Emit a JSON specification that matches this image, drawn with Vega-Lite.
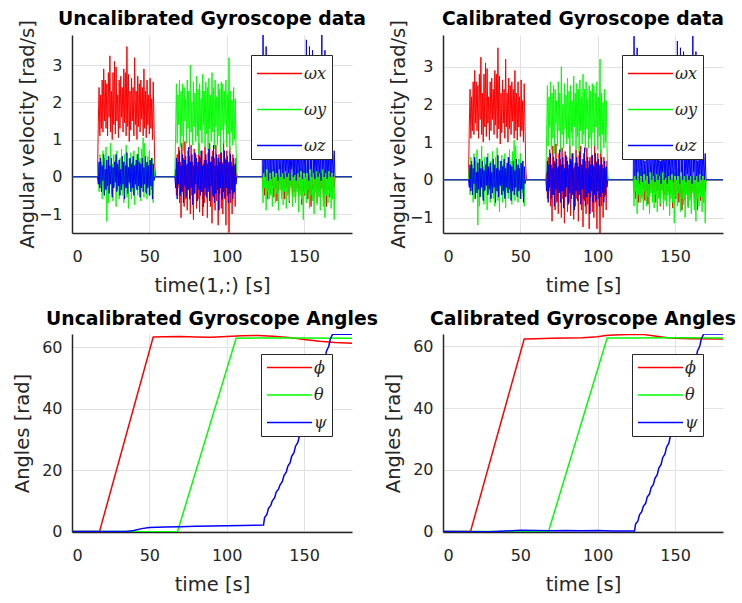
{
"$schema": "https://vega.github.io/schema/vega-lite/v6.json",
"padding": {"left": 12, "top": 9, "right": 5, "bottom": 5},
"background": "white",
"config": {
  "font": "DejaVu Sans",
  "view": {"stroke": null},
  "axis": {"labelFont": "DejaVu Sans", "labelFontSize": 16, "labelColor": "#262626", "titleFont": "DejaVu Sans", "titleFontSize": 19.5, "titleFontWeight": "normal", "titleColor": "#262626", "domainColor": "#262626", "domainWidth": 1.5, "ticks": false, "gridColor": "#e2e2e2", "gridWidth": 1},
  "axisX": {"labelPadding": 15, "titlePadding": 12},
  "axisY": {"labelPadding": 10, "titlePadding": 8},
  "title": {"font": "DejaVu Sans", "fontSize": 18.8, "fontWeight": "bold", "color": "#000000"},
  "legend": {"orient": "top-right", "offset": 20, "symbolType": "M-1,0H5", "symbolSize": 225, "symbolStrokeWidth": 1.5, "symbolFillColor": "transparent", "labelFont": "DejaVu Serif", "labelFontStyle": "italic", "labelFontSize": 16, "labelColor": "#262626", "strokeColor": "#262626", "fillColor": "#ffffff", "padding": 5, "labelOffset": 31}
},
"datasets": {
"gyro": [
{"t":0,"x":0,"y":0,"z":0},{"t":16.5,"x":0,"y":0,"z":0},
{"t":17,"x":1.45,"y":0.3,"z":-0.2},{"t":17.5,"x":2.4,"y":-0.4,"z":0.4},{"t":18,"x":1.1,"y":0.6,"z":-0.3},{"t":18.5,"x":2.2,"y":-0.2,"z":0.5},{"t":19,"x":1.3,"y":0.4,"z":-0.4},{"t":19.5,"x":2.6,"y":-0.6,"z":0.3},{"t":20,"x":1.2,"y":0.7,"z":-0.1},{"t":20.5,"x":2.9,"y":-0.5,"z":0.6},{"t":21,"x":1.5,"y":0.5,"z":-0.5},{"t":21.5,"x":2.6,"y":-0.3,"z":0.2},{"t":22,"x":1.3,"y":0.8,"z":-0.35},{"t":22.5,"x":2.5,"y":-1.2,"z":0.45},{"t":23,"x":1.1,"y":0.2,"z":-0.25},{"t":23.5,"x":2.8,"y":-0.7,"z":0.55},{"t":24,"x":1.6,"y":0.55,"z":-0.45},{"t":24.5,"x":3.25,"y":-0.1,"z":0.3},{"t":25,"x":1.2,"y":0.9,"z":-0.2},{"t":25.5,"x":2.3,"y":-0.45,"z":0.5},{"t":26,"x":1.0,"y":0.35,"z":-0.55},{"t":26.5,"x":2.8,"y":-0.65,"z":0.25},{"t":27,"x":1.4,"y":0.6,"z":-0.3},{"t":27.5,"x":3.1,"y":-0.25,"z":0.4},{"t":28,"x":1.15,"y":0.45,"z":-0.15},{"t":28.5,"x":2.95,"y":-0.8,"z":0.6},{"t":29,"x":1.5,"y":0.7,"z":-0.4},{"t":29.5,"x":2.2,"y":-0.35,"z":0.35},{"t":30,"x":1.05,"y":0.3,"z":-0.25},{"t":30.5,"x":2.6,"y":-0.6,"z":0.45},{"t":31,"x":1.3,"y":0.5,"z":-0.5},{"t":31.5,"x":2.7,"y":-0.15,"z":0.2},{"t":32,"x":1.6,"y":0.75,"z":-0.35},{"t":32.5,"x":2.4,"y":-0.5,"z":0.55},{"t":33,"x":1.2,"y":0.4,"z":-0.2},{"t":33.5,"x":2.9,"y":-0.7,"z":0.4},{"t":34,"x":1.45,"y":0.6,"z":-0.6},{"t":34.5,"x":2.8,"y":-0.3,"z":0.3},{"t":35,"x":1.1,"y":0.85,"z":-0.3},{"t":35.5,"x":3.5,"y":-0.55,"z":0.65},{"t":36,"x":1.35,"y":0.3,"z":-0.45},{"t":36.5,"x":2.75,"y":-0.85,"z":0.25},{"t":37,"x":0.95,"y":0.5,"z":-0.15},{"t":37.5,"x":2.3,"y":-0.2,"z":0.5},{"t":38,"x":1.25,"y":0.65,"z":-0.4},{"t":38.5,"x":2.65,"y":-0.6,"z":0.35},{"t":39,"x":1.5,"y":0.4,"z":-0.3},{"t":39.5,"x":2.4,"y":-0.4,"z":0.55},{"t":40,"x":1.1,"y":0.7,"z":-0.5},{"t":40.5,"x":3.2,"y":-0.75,"z":0.3},{"t":41,"x":1.4,"y":0.35,"z":-0.2},{"t":41.5,"x":2.3,"y":-0.3,"z":0.45},{"t":42,"x":1.0,"y":0.6,"z":-0.35},{"t":42.5,"x":2.7,"y":-0.5,"z":0.6},{"t":43,"x":1.35,"y":0.8,"z":-0.25},{"t":43.5,"x":2.5,"y":-0.35,"z":0.4},{"t":44,"x":1.2,"y":0.5,"z":-0.55},{"t":44.5,"x":2.6,"y":-0.65,"z":0.35},{"t":45,"x":1.55,"y":0.75,"z":-0.3},{"t":45.5,"x":2.4,"y":-0.2,"z":0.5},{"t":46,"x":1.1,"y":1.05,"z":-0.4},{"t":46.5,"x":2.9,"y":-0.55,"z":0.25},{"t":47,"x":1.3,"y":0.9,"z":-0.2},{"t":47.5,"x":2.3,"y":-0.4,"z":0.55},{"t":48,"x":1.05,"y":0.3,"z":-0.45},{"t":48.5,"x":2.6,"y":-0.6,"z":0.4},{"t":49,"x":1.4,"y":0.55,"z":-0.3},{"t":49.5,"x":2.2,"y":-0.25,"z":0.3},{"t":50,"x":1.15,"y":0.7,"z":-0.5},{"t":50.5,"x":2.65,"y":-0.5,"z":0.45},{"t":51,"x":1.3,"y":0.4,"z":-0.25},{"t":51.5,"x":2.1,"y":-0.35,"z":0.5},{"t":52,"x":1.0,"y":0.5,"z":-0.6},{"t":52.5,"x":2.55,"y":-0.7,"z":0.35},{"t":53,"x":1.45,"y":0.2,"z":-0.1},{"t":53.5,"x":0.3,"y":0,"z":0},
{"t":54,"x":0,"y":0,"z":0},{"t":66.5,"x":0,"y":0,"z":0},
{"t":67,"x":0.2,"y":1.2,"z":-0.3},{"t":67.5,"x":-0.5,"y":2.5,"z":0.5},{"t":68,"x":0.6,"y":0.9,"z":-0.6},{"t":68.5,"x":-0.3,"y":2.2,"z":0.4},{"t":69,"x":0.8,"y":1.4,"z":-0.2},{"t":69.5,"x":-0.7,"y":2.6,"z":0.7},{"t":70,"x":0.4,"y":0.8,"z":-0.5},{"t":70.5,"x":-1.1,"y":2.3,"z":0.3},{"t":71,"x":0.9,"y":1.1,"z":-0.4},{"t":71.5,"x":-0.4,"y":2.5,"z":0.6},{"t":72,"x":0.5,"y":0.7,"z":-0.7},{"t":72.5,"x":-0.8,"y":2.4,"z":0.45},{"t":73,"x":0.95,"y":1.5,"z":-0.25},{"t":73.5,"x":-0.6,"y":2.1,"z":0.55},{"t":74,"x":0.3,"y":0.9,"z":-0.55},{"t":74.5,"x":-0.9,"y":2.6,"z":0.35},{"t":75,"x":0.7,"y":1.3,"z":-0.35},{"t":75.5,"x":-0.35,"y":2.3,"z":0.8},{"t":76,"x":0.55,"y":0.75,"z":-0.6},{"t":76.5,"x":-1.0,"y":3.0,"z":0.4},{"t":77,"x":0.85,"y":1.2,"z":-0.3},{"t":77.5,"x":-0.5,"y":2.0,"z":0.6},{"t":78,"x":0.4,"y":0.85,"z":-0.75},{"t":78.5,"x":-1.15,"y":2.55,"z":0.3},{"t":79,"x":0.75,"y":1.35,"z":-0.45},{"t":79.5,"x":-0.45,"y":2.25,"z":0.65},{"t":80,"x":0.6,"y":0.95,"z":-0.2},{"t":80.5,"x":-0.85,"y":2.7,"z":0.5},{"t":81,"x":0.3,"y":1.1,"z":-0.65},{"t":81.5,"x":-0.6,"y":2.35,"z":0.4},{"t":82,"x":0.9,"y":0.6,"z":-0.35},{"t":82.5,"x":-0.95,"y":2.5,"z":0.55},{"t":83,"x":0.5,"y":1.25,"z":-0.5},{"t":83.5,"x":-0.4,"y":2.1,"z":0.7},{"t":84,"x":0.7,"y":0.9,"z":-0.4},{"t":84.5,"x":-1.05,"y":2.75,"z":0.3},{"t":85,"x":0.35,"y":1.4,"z":-0.8},{"t":85.5,"x":-0.7,"y":2.3,"z":0.45},{"t":86,"x":0.8,"y":0.8,"z":-0.3},{"t":86.5,"x":-0.5,"y":2.55,"z":0.6},{"t":87,"x":0.45,"y":1.15,"z":-0.55},{"t":87.5,"x":-1.1,"y":2.4,"z":0.35},{"t":88,"x":0.65,"y":0.7,"z":-0.4},{"t":88.5,"x":-0.3,"y":2.65,"z":0.75},{"t":89,"x":0.9,"y":1.3,"z":-0.65},{"t":89.5,"x":-0.8,"y":2.2,"z":0.4},{"t":90,"x":0.4,"y":0.95,"z":-0.25},{"t":90.5,"x":-1.25,"y":2.8,"z":0.55},{"t":91,"x":0.7,"y":1.2,"z":-0.5},{"t":91.5,"x":-0.55,"y":2.4,"z":0.85},{"t":92,"x":0.5,"y":0.75,"z":-0.7},{"t":92.5,"x":-0.9,"y":2.6,"z":0.3},{"t":93,"x":0.85,"y":1.35,"z":-0.45},{"t":93.5,"x":-0.65,"y":2.15,"z":0.6},{"t":94,"x":0.3,"y":0.85,"z":-0.35},{"t":94.5,"x":-1.3,"y":2.5,"z":0.5},{"t":95,"x":0.6,"y":1.1,"z":-0.9},{"t":95.5,"x":-0.45,"y":2.35,"z":0.4},{"t":96,"x":0.75,"y":0.65,"z":-0.3},{"t":96.5,"x":-0.85,"y":2.55,"z":0.65},{"t":97,"x":0.4,"y":1.25,"z":-0.6},{"t":97.5,"x":-1.0,"y":2.5,"z":0.35},{"t":98,"x":0.95,"y":0.9,"z":-0.4},{"t":98.5,"x":-0.6,"y":2.3,"z":0.7},{"t":99,"x":0.5,"y":1.4,"z":-0.55},{"t":99.5,"x":-1.3,"y":2.6,"z":0.45},{"t":100,"x":0.7,"y":0.8,"z":-0.3},{"t":100.5,"x":-0.5,"y":2.2,"z":0.55},{"t":101,"x":0.35,"y":1.15,"z":-0.7},{"t":101.5,"x":-1.5,"y":3.2,"z":0.4},{"t":102,"x":0.8,"y":0.7,"z":-0.45},{"t":102.5,"x":-0.7,"y":2.3,"z":0.6},{"t":103,"x":0.4,"y":1.2,"z":-0.35},{"t":103.5,"x":-1.0,"y":2.05,"z":0.3},{"t":104,"x":0.6,"y":0.85,"z":-0.6},{"t":104.5,"x":-0.45,"y":2.4,"z":0.5},{"t":105,"x":0.3,"y":1.0,"z":-0.4},{"t":105.5,"x":-0.8,"y":2.1,"z":0.35},{"t":106,"x":0.5,"y":0.9,"z":-0.2},{"t":106.5,"x":0,"y":0.1,"z":0},
{"t":107,"x":0,"y":0,"z":0},{"t":122.5,"x":0,"y":0,"z":0},
{"t":123,"x":0,"y":0,"z":0},{"t":123.5,"x":-0.3,"y":-0.7,"z":3.81},{"t":124,"x":0.1,"y":0.3,"z":0.1},{"t":124.5,"x":-0.5,"y":-0.3,"z":0.8},{"t":125,"x":0,"y":0.1,"z":0},{"t":125.5,"x":-0.2,"y":-0.9,"z":3.5},{"t":126,"x":0.1,"y":0.2,"z":0.2},{"t":126.5,"x":-0.6,"y":-0.4,"z":0.7},{"t":127,"x":0,"y":0,"z":-0.1},{"t":127.5,"x":-0.35,"y":-0.6,"z":0.9},{"t":128,"x":0.05,"y":0.3,"z":0.1},{"t":128.5,"x":-0.45,"y":-0.5,"z":0.6},{"t":129,"x":0.1,"y":0.1,"z":-0.05},{"t":129.5,"x":-0.25,"y":-0.8,"z":0.85},{"t":130,"x":0,"y":0.2,"z":0.15},{"t":130.5,"x":-0.55,"y":-0.3,"z":0.5},{"t":131,"x":0.1,"y":0,"z":0},{"t":131.5,"x":-0.3,"y":-0.7,"z":0.9},{"t":132,"x":0,"y":0.25,"z":0.1},{"t":132.5,"x":-0.65,"y":-0.45,"z":0.65},{"t":133,"x":0.05,"y":0.05,"z":-0.1},{"t":133.5,"x":-0.4,"y":-0.9,"z":0.8},{"t":134,"x":0.1,"y":0.2,"z":0.2},{"t":134.5,"x":-0.2,"y":-0.35,"z":0.55},{"t":135,"x":0,"y":0,"z":0},{"t":135.5,"x":-0.5,"y":-0.6,"z":0.95},{"t":136,"x":0.1,"y":0.3,"z":0.1},{"t":136.5,"x":-0.35,"y":-0.75,"z":0.7},{"t":137,"x":0,"y":0.1,"z":-0.05},{"t":137.5,"x":-0.6,"y":-0.4,"z":0.85},{"t":138,"x":0.05,"y":0.2,"z":0.15},{"t":138.5,"x":-0.3,"y":-0.85,"z":0.6},{"t":139,"x":0.1,"y":0,"z":0},{"t":139.5,"x":-0.45,"y":-0.5,"z":0.9},{"t":140,"x":0,"y":0.25,"z":0.1},{"t":140.5,"x":-0.7,"y":-0.65,"z":0.5},{"t":141,"x":0.1,"y":0.1,"z":-0.1},{"t":141.5,"x":-0.25,"y":-0.3,"z":0.8},{"t":142,"x":0,"y":0.2,"z":0.2},{"t":142.5,"x":-0.5,"y":-0.8,"z":0.65},{"t":143,"x":0.05,"y":0,"z":0},{"t":143.5,"x":-0.4,"y":-0.55,"z":0.9},{"t":144,"x":0.1,"y":0.3,"z":0.05},{"t":144.5,"x":-0.65,"y":-0.7,"z":0.7},{"t":145,"x":0,"y":0.1,"z":-0.1},{"t":145.5,"x":-0.3,"y":-0.4,"z":0.85},{"t":146,"x":0.1,"y":0.2,"z":0.1},{"t":146.5,"x":-0.55,"y":-0.95,"z":0.55},{"t":147,"x":0,"y":0,"z":0},{"t":147.5,"x":-0.35,"y":-0.5,"z":0.95},{"t":148,"x":0.05,"y":0.25,"z":0.15},{"t":148.5,"x":-0.75,"y":-0.6,"z":0.6},{"t":149,"x":0.1,"y":0.1,"z":-0.05},{"t":149.5,"x":-0.4,"y":-1.15,"z":0.8},{"t":150,"x":0,"y":0.2,"z":0.1},{"t":150.5,"x":-0.5,"y":-0.45,"z":0.7},{"t":151,"x":0.1,"y":0,"z":0},{"t":151.5,"x":-0.3,"y":-0.7,"z":3.68},{"t":152,"x":0,"y":0.3,"z":0.1},{"t":152.5,"x":-0.6,"y":-0.35,"z":0.9},{"t":153,"x":0.05,"y":0.1,"z":-0.1},{"t":153.5,"x":-0.45,"y":-0.85,"z":3.5},{"t":154,"x":0.1,"y":0.2,"z":0.2},{"t":154.5,"x":-0.8,"y":-0.5,"z":0.75},{"t":155,"x":0,"y":0,"z":0},{"t":155.5,"x":-0.35,"y":-0.65,"z":3.4},{"t":156,"x":0.1,"y":0.25,"z":0.1},{"t":156.5,"x":-0.55,"y":-1.0,"z":0.85},{"t":157,"x":0,"y":0.1,"z":-0.05},{"t":157.5,"x":-0.25,"y":-0.4,"z":0.6},{"t":158,"x":0.05,"y":0.2,"z":0.15},{"t":158.5,"x":-0.7,"y":-0.75,"z":0.9},{"t":159,"x":0.1,"y":0,"z":0},{"t":159.5,"x":-0.4,"y":-0.55,"z":0.7},{"t":160,"x":0,"y":0.3,"z":0.1},{"t":160.5,"x":-0.5,"y":-0.9,"z":0.7},{"t":161,"x":0.1,"y":0.1,"z":-0.1},{"t":161.5,"x":-0.3,"y":-0.35,"z":3.81},{"t":162,"x":0,"y":0.2,"z":0.2},{"t":162.5,"x":-0.65,"y":-0.8,"z":0.6},{"t":163,"x":0.05,"y":0,"z":0},{"t":163.5,"x":-0.45,"y":-1.1,"z":3.4},{"t":164,"x":0.1,"y":0.25,"z":0.1},{"t":164.5,"x":-0.8,"y":-0.5,"z":0.5},{"t":165,"x":0,"y":0.1,"z":-0.05},{"t":165.5,"x":-0.35,"y":-0.7,"z":0.8},{"t":166,"x":0.1,"y":0.2,"z":0.15},{"t":166.5,"x":-0.55,"y":-0.45,"z":0.65},{"t":167,"x":0,"y":0,"z":0},{"t":167.5,"x":-0.4,"y":-0.85,"z":0.9},{"t":168,"x":0.05,"y":0.15,"z":0.1},{"t":168.5,"x":-0.6,"y":-0.6,"z":0.6},{"t":169,"x":0.1,"y":0.05,"z":0},{"t":169.5,"x":-0.3,"y":-1.15,"z":0.7},{"t":170,"x":0,"y":0,"z":0},
{"t":170.5,"x":0,"y":0,"z":0},{"t":181,"x":0,"y":0,"z":0}
],
"angU": [
{"t":0,"s":"phi","v":0},{"t":17.8,"s":"phi","v":0},{"t":52.5,"s":"phi","v":63.4},{"t":60,"s":"phi","v":63.5},{"t":70,"s":"phi","v":63.6},{"t":80,"s":"phi","v":63.4},{"t":90,"s":"phi","v":63.3},{"t":100,"s":"phi","v":63.6},{"t":110,"s":"phi","v":63.85},{"t":120,"s":"phi","v":63.9},{"t":130,"s":"phi","v":63.7},{"t":140,"s":"phi","v":63.3},{"t":150,"s":"phi","v":62.6},{"t":160,"s":"phi","v":62.0},{"t":170,"s":"phi","v":61.6},{"t":181,"s":"phi","v":61.4},
{"t":0,"s":"theta","v":0},{"t":35,"s":"theta","v":0},{"t":40,"s":"theta","v":-0.15},{"t":68.2,"s":"theta","v":-0.1},{"t":106.1,"s":"theta","v":63.0},{"t":120,"s":"theta","v":63.1},{"t":150,"s":"theta","v":63.1},{"t":181,"s":"theta","v":63.05},
{"t":0,"s":"psi","v":0},{"t":35,"s":"psi","v":0},{"t":40,"s":"psi","v":0.3},{"t":45,"s":"psi","v":0.9},{"t":50,"s":"psi","v":1.3},{"t":60,"s":"psi","v":1.45},{"t":70,"s":"psi","v":1.55},{"t":80,"s":"psi","v":1.65},{"t":90,"s":"psi","v":1.75},{"t":100,"s":"psi","v":1.85},{"t":110,"s":"psi","v":1.95},{"t":123.8,"s":"psi","v":2.05},{"t":124.5,"s":"psi","v":4.5},{"t":126,"s":"psi","v":5.5},{"t":127,"s":"psi","v":7.5},{"t":128.5,"s":"psi","v":8.5},{"t":129.5,"s":"psi","v":10},{"t":131,"s":"psi","v":11},{"t":132,"s":"psi","v":12.8},{"t":133.5,"s":"psi","v":13.8},{"t":134.5,"s":"psi","v":15.2},{"t":136,"s":"psi","v":16.3},{"t":137,"s":"psi","v":18.2},{"t":138.5,"s":"psi","v":19.3},{"t":139.5,"s":"psi","v":21.2},{"t":141,"s":"psi","v":22.4},{"t":142,"s":"psi","v":24.5},{"t":143.5,"s":"psi","v":25.7},{"t":144.5,"s":"psi","v":27.8},{"t":146,"s":"psi","v":29},{"t":147,"s":"psi","v":31.2},{"t":148.5,"s":"psi","v":32.5},{"t":149.5,"s":"psi","v":34.8},{"t":151,"s":"psi","v":36.2},{"t":152,"s":"psi","v":38.6},{"t":153.5,"s":"psi","v":40},{"t":154.5,"s":"psi","v":42.4},{"t":156,"s":"psi","v":43.9},{"t":157,"s":"psi","v":46.4},{"t":158.5,"s":"psi","v":47.9},{"t":159.5,"s":"psi","v":50.4},{"t":161,"s":"psi","v":52},{"t":162,"s":"psi","v":54.6},{"t":163.5,"s":"psi","v":56.2},{"t":164.5,"s":"psi","v":58.8},{"t":166,"s":"psi","v":60.4},{"t":167,"s":"psi","v":62.8},{"t":168.5,"s":"psi","v":64.35},{"t":181,"s":"psi","v":64.35}
],
"angC": [
{"t":0,"s":"phi","v":0},{"t":17.8,"s":"phi","v":0},{"t":52.5,"s":"phi","v":62.4},{"t":60,"s":"phi","v":62.5},{"t":70,"s":"phi","v":62.6},{"t":80,"s":"phi","v":62.7},{"t":90,"s":"phi","v":62.8},{"t":100,"s":"phi","v":63.1},{"t":105,"s":"phi","v":63.5},{"t":110,"s":"phi","v":63.7},{"t":120,"s":"phi","v":63.8},{"t":130,"s":"phi","v":63.8},{"t":138,"s":"phi","v":63.3},{"t":145,"s":"phi","v":62.8},{"t":150,"s":"phi","v":62.6},{"t":160,"s":"phi","v":62.5},{"t":181,"s":"phi","v":62.4},
{"t":0,"s":"theta","v":0},{"t":30,"s":"theta","v":0},{"t":40,"s":"theta","v":-0.15},{"t":50,"s":"theta","v":-0.1},{"t":68.2,"s":"theta","v":0},{"t":106.1,"s":"theta","v":62.7},{"t":120,"s":"theta","v":62.7},{"t":150,"s":"theta","v":62.75},{"t":181,"s":"theta","v":62.7},
{"t":0,"s":"psi","v":0},{"t":30,"s":"psi","v":-0.1},{"t":40,"s":"psi","v":0.1},{"t":50,"s":"psi","v":0.4},{"t":60,"s":"psi","v":0.3},{"t":70,"s":"psi","v":0.2},{"t":80,"s":"psi","v":0.3},{"t":90,"s":"psi","v":0.2},{"t":100,"s":"psi","v":0.25},{"t":110,"s":"psi","v":0.15},{"t":123.8,"s":"psi","v":0.1},{"t":124.5,"s":"psi","v":2.4},{"t":126,"s":"psi","v":3.4},{"t":127,"s":"psi","v":5.4},{"t":128.5,"s":"psi","v":6.4},{"t":129.5,"s":"psi","v":8.1},{"t":131,"s":"psi","v":9.1},{"t":132,"s":"psi","v":11.1},{"t":133.5,"s":"psi","v":12.1},{"t":134.5,"s":"psi","v":14.1},{"t":136,"s":"psi","v":15.2},{"t":137,"s":"psi","v":17.2},{"t":138.5,"s":"psi","v":18.4},{"t":139.5,"s":"psi","v":20.5},{"t":141,"s":"psi","v":21.7},{"t":142,"s":"psi","v":23.9},{"t":143.5,"s":"psi","v":25.1},{"t":144.5,"s":"psi","v":27.3},{"t":146,"s":"psi","v":28.6},{"t":147,"s":"psi","v":30.9},{"t":148.5,"s":"psi","v":32.2},{"t":149.5,"s":"psi","v":34.5},{"t":151,"s":"psi","v":35.9},{"t":152,"s":"psi","v":38.3},{"t":153.5,"s":"psi","v":39.7},{"t":154.5,"s":"psi","v":42.1},{"t":156,"s":"psi","v":43.6},{"t":157,"s":"psi","v":46.1},{"t":158.5,"s":"psi","v":47.6},{"t":159.5,"s":"psi","v":50.1},{"t":161,"s":"psi","v":51.7},{"t":162,"s":"psi","v":54.3},{"t":163.5,"s":"psi","v":55.9},{"t":164.5,"s":"psi","v":58.5},{"t":166,"s":"psi","v":60.1},{"t":167,"s":"psi","v":62.4},{"t":168.5,"s":"psi","v":64.0},{"t":181,"s":"psi","v":64.0}
]
},
"columns": 2,
"bounds": "flush",
"spacing": {"row": 101, "column": 91},
"resolve": {"scale": {"x": "independent", "y": "independent", "color": "independent"}, "legend": {"color": "independent"}},
"concat": [
{
  "width": 280, "height": 198,
  "title": {"text": "Uncalibrated Gyroscope data", "offset": -9},
  "data": {"name": "gyro"},
  "transform": [{"fold": ["x", "y", "z"], "as": ["s", "v"]}],
  "mark": {"type": "line", "strokeWidth": 1, "clip": true},
  "encoding": {
    "x": {"field": "t", "type": "quantitative", "scale": {"domain": [0, 181], "nice": false, "zero": false}, "axis": {"values": [0, 50, 100, 150], "title": "time(1,:) [s]"}},
    "y": {"field": "v", "type": "quantitative", "scale": {"domain": [-1.51, 3.81], "nice": false, "zero": false}, "axis": {"values": [-1, 0, 1, 2, 3], "title": "Angular velocity [rad/s]", "titleX": -35}},
    "color": {"field": "s", "type": "nominal", "scale": {"domain": ["x", "y", "z"], "range": ["#ff0000", "#00ff00", "#0000ff"]}, "legend": {"title": " ", "titleFontSize": 5, "titlePadding": 0, "rowPadding": 19, "labelExpr": "'ω' + datum.value"}}
  }
},
{
  "width": 280, "height": 198,
  "title": {"text": "Calibrated Gyroscope data", "offset": -9},
  "data": {"name": "gyro"},
  "transform": [{"fold": ["x", "y", "z"], "as": ["s", "v"]}],
  "mark": {"type": "line", "strokeWidth": 1, "clip": true},
  "encoding": {
    "x": {"field": "t", "type": "quantitative", "scale": {"domain": [0, 181], "nice": false, "zero": false}, "axis": {"values": [0, 50, 100, 150], "title": "time [s]"}},
    "y": {"field": "v", "type": "quantitative", "scale": {"domain": [-1.41, 3.84], "nice": false, "zero": false}, "axis": {"values": [-1, 0, 1, 2, 3], "title": "Angular velocity [rad/s]", "titleX": -35}},
    "color": {"field": "s", "type": "nominal", "scale": {"domain": ["x", "y", "z"], "range": ["#ff0000", "#00ff00", "#0000ff"]}, "legend": {"title": " ", "titleFontSize": 5, "titlePadding": 0, "rowPadding": 19, "labelExpr": "'ω' + datum.value"}}
  }
},
{
  "width": 280, "height": 198,
  "title": {"text": "Uncalibrated Gyroscope Angles", "offset": 5},
  "data": {"name": "angU"},
  "mark": {"type": "line", "strokeWidth": 1.5, "clip": true},
  "encoding": {
    "x": {"field": "t", "type": "quantitative", "scale": {"domain": [0, 181], "nice": false, "zero": false}, "axis": {"values": [0, 50, 100, 150], "title": "time [s]"}},
    "y": {"field": "v", "type": "quantitative", "scale": {"domain": [-0.2, 64.4], "nice": false, "zero": false}, "axis": {"values": [0, 20, 40, 60], "title": "Angles [rad]", "titleX": -40}},
    "color": {"field": "s", "type": "nominal", "scale": {"domain": ["phi", "theta", "psi"], "range": ["#ff0000", "#00ff00", "#0000ff"]}, "legend": {"title": null, "rowPadding": 10.5, "labelExpr": "datum.value == 'phi' ? 'ϕ' : datum.value == 'theta' ? 'θ' : 'ψ'"}}
  }
},
{
  "width": 280, "height": 198,
  "title": {"text": "Calibrated Gyroscope Angles", "offset": 5},
  "data": {"name": "angC"},
  "mark": {"type": "line", "strokeWidth": 1.5, "clip": true},
  "encoding": {
    "x": {"field": "t", "type": "quantitative", "scale": {"domain": [0, 181], "nice": false, "zero": false}, "axis": {"values": [0, 50, 100, 150], "title": "time [s]"}},
    "y": {"field": "v", "type": "quantitative", "scale": {"domain": [-0.2, 64.0], "nice": false, "zero": false}, "axis": {"values": [0, 20, 40, 60], "title": "Angles [rad]", "titleX": -40}},
    "color": {"field": "s", "type": "nominal", "scale": {"domain": ["phi", "theta", "psi"], "range": ["#ff0000", "#00ff00", "#0000ff"]}, "legend": {"title": null, "rowPadding": 10.5, "labelExpr": "datum.value == 'phi' ? 'ϕ' : datum.value == 'theta' ? 'θ' : 'ψ'"}}
  }
}
]
}
